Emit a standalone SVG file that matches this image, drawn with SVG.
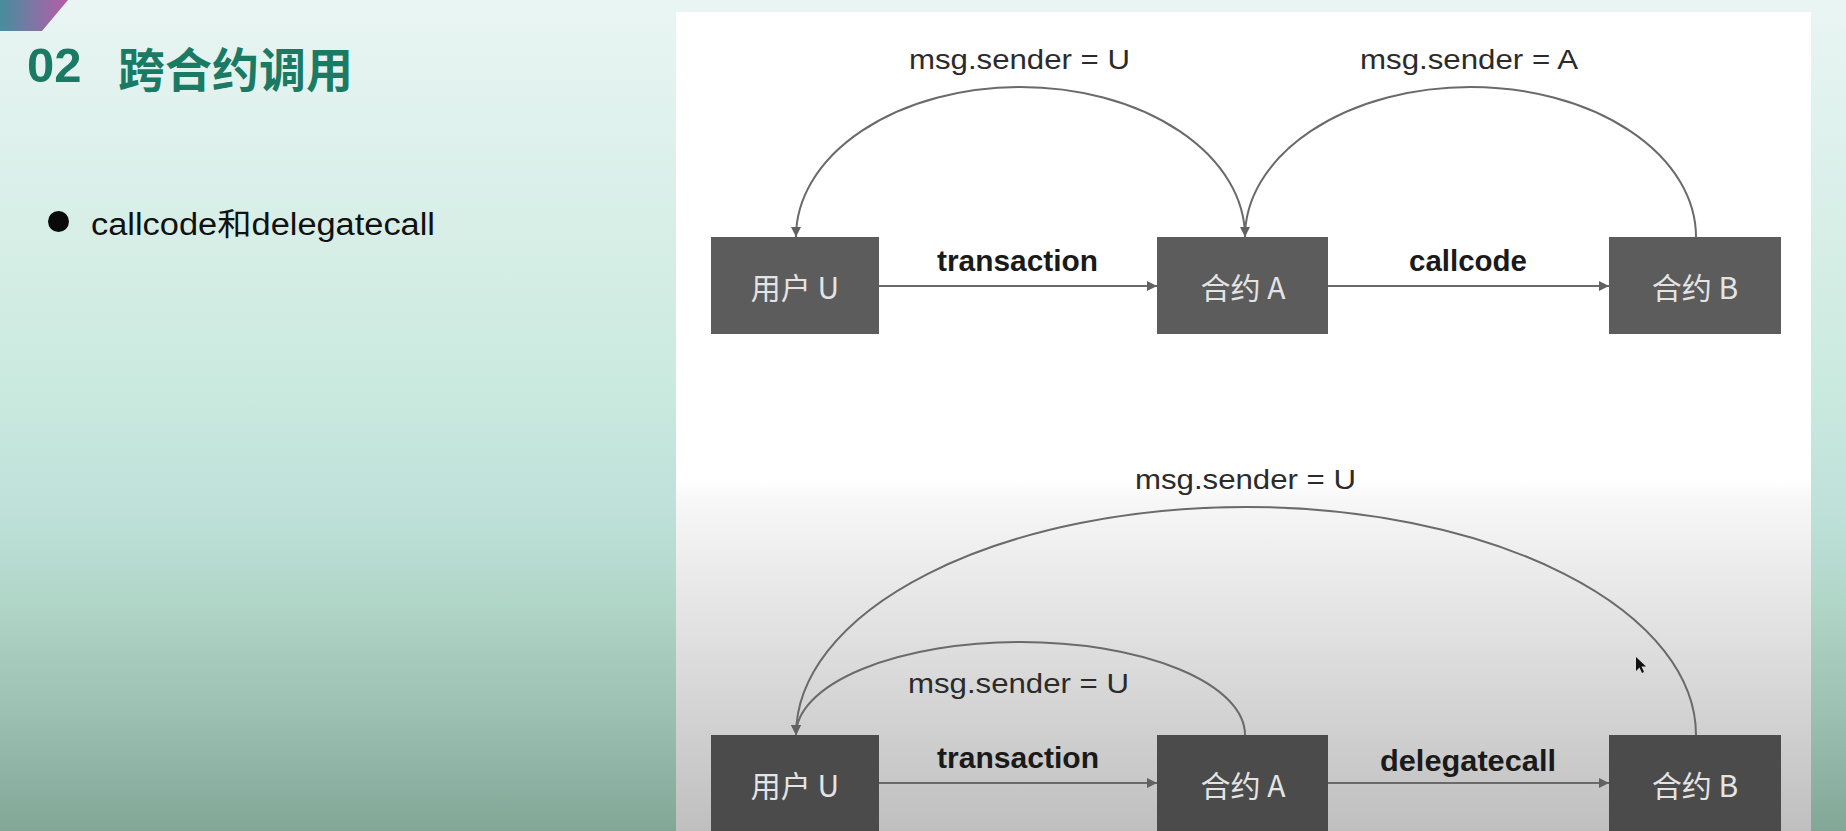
<svg xmlns="http://www.w3.org/2000/svg" width="1846" height="831" viewBox="0 0 1846 831">
  <defs>
    <linearGradient id="bg" x1="0" y1="0" x2="0" y2="1">
      <stop offset="0" stop-color="#e9f5f3"/>
      <stop offset="0.46" stop-color="#cbeadf"/>
      <stop offset="0.61" stop-color="#bfe1da"/>
      <stop offset="0.72" stop-color="#b1d7c9"/>
      <stop offset="0.84" stop-color="#9fc3b5"/>
      <stop offset="1" stop-color="#82a797"/>
    </linearGradient>
    <linearGradient id="panel" x1="0" y1="0" x2="0" y2="1">
      <stop offset="0" stop-color="#ffffff"/>
      <stop offset="0.571" stop-color="#ffffff"/>
      <stop offset="0.596" stop-color="#f7f7f7"/>
      <stop offset="1" stop-color="#bfbfbf"/>
    </linearGradient>
    <linearGradient id="tag" x1="0" y1="0" x2="1" y2="0">
      <stop offset="0" stop-color="#468e9e"/>
      <stop offset="1" stop-color="#b75ca9"/>
    </linearGradient>
    <marker id="arrow" viewBox="0 0 10 10" refX="10" refY="5" markerWidth="11" markerHeight="10" markerUnits="userSpaceOnUse" orient="auto">
      <path d="M0,0 L10,5 L0,10 z" fill="#616161"/>
    </marker>
    <style>
      .box-top { fill: #5c5c5c; }
      .box-bot { fill: #4b4b4b; }
      .box-label { font-family: "Noto Sans CJK SC", "Liberation Sans", sans-serif; font-size: 30px; fill: #e4e4e4; text-anchor: middle; }
      .edge-label { font-family: "Liberation Sans", Arial, sans-serif; font-size: 30px; font-weight: bold; fill: #1a1a1a; text-anchor: middle; }
      .msg-label { font-family: "Liberation Sans", Arial, sans-serif; font-size: 27px; fill: #2b2b2b; text-anchor: middle; }
      .conn { fill: none; stroke: #6a6a6a; stroke-width: 2; marker-end: url(#arrow); }
      .conn-plain { fill: none; stroke: #6a6a6a; stroke-width: 2; }
    </style>
  </defs>

  <!-- background -->
  <rect x="0" y="0" width="1846" height="831" fill="url(#bg)"/>
  <polygon points="0,0 68,0 42,31 0,31" fill="url(#tag)"/>
  <rect x="676" y="12" width="1135" height="819" fill="url(#panel)"/>

  <!-- title and bullet -->
  <g id="title">
    <text x="27" y="82" font-family="'Liberation Sans', Arial, sans-serif" font-size="49" font-weight="bold" fill="#1b7a63">02</text>
    <text x="118" y="87" font-family="'Noto Sans CJK SC', sans-serif" font-size="47" font-weight="bold" fill="#1b7a63">跨合约调用</text>
  </g>
  <g id="bullet">
    <circle cx="58.5" cy="221.5" r="10.5" fill="#0a0a0a"/>
    <text x="91" y="235" font-family="'Liberation Sans', 'Noto Sans CJK SC', sans-serif" font-size="31" fill="#111111" textLength="344" lengthAdjust="spacingAndGlyphs">callcode和delegatecall</text>
  </g>

  <!-- connectors -->
  <g id="connectors">
    <!-- top diagram -->
    <line class="conn" x1="879" y1="286" x2="1157" y2="286"/>
    <line class="conn" x1="1328" y1="286" x2="1609" y2="286"/>
    <path class="conn" d="M1245,237 A224.5,150 0 0 0 796,237"/>
    <path class="conn" d="M1696,237 A225.5,150 0 0 0 1245,237"/>
    <!-- bottom diagram -->
    <line class="conn" x1="879" y1="783" x2="1157" y2="783"/>
    <line class="conn" x1="1328" y1="783" x2="1609" y2="783"/>
    <path class="conn" d="M1245,735 A224.5,93 0 0 0 796,735"/>
    <path class="conn" d="M1696,735 A450,228 0 0 0 796,735"/>

    <text class="edge-label" x="1017.5" y="271" textLength="161" lengthAdjust="spacingAndGlyphs">transaction</text>
    <text class="edge-label" x="1468" y="271" textLength="118" lengthAdjust="spacingAndGlyphs">callcode</text>
    <text class="msg-label" x="1019.5" y="69" textLength="221" lengthAdjust="spacingAndGlyphs">msg.sender = U</text>
    <text class="msg-label" x="1469" y="69" textLength="218" lengthAdjust="spacingAndGlyphs">msg.sender = A</text>

    <text class="edge-label" x="1018" y="768" textLength="162" lengthAdjust="spacingAndGlyphs">transaction</text>
    <text class="edge-label" x="1468" y="771" textLength="176" lengthAdjust="spacingAndGlyphs">delegatecall</text>
    <text class="msg-label" x="1245.5" y="489" textLength="221" lengthAdjust="spacingAndGlyphs">msg.sender = U</text>
    <text class="msg-label" x="1018.5" y="693" textLength="221" lengthAdjust="spacingAndGlyphs">msg.sender = U</text>
  </g>

  <!-- nodes: top diagram -->
  <g id="top-user">
    <rect class="box-top" x="711" y="237" width="168" height="97"/>
    <text class="box-label" x="795" y="299">用户 U</text>
  </g>
  <g id="top-contractA">
    <rect class="box-top" x="1157" y="237" width="171" height="97"/>
    <text class="box-label" x="1243" y="299">合约 A</text>
  </g>
  <g id="top-contractB">
    <rect class="box-top" x="1609" y="237" width="172" height="97"/>
    <text class="box-label" x="1695" y="299">合约 B</text>
  </g>

  <!-- nodes: bottom diagram -->
  <g id="bottom-user">
    <rect class="box-bot" x="711" y="735" width="168" height="97"/>
    <text class="box-label" x="795" y="797" fill="#d8d8d8">用户 U</text>
  </g>
  <g id="bottom-contractA">
    <rect class="box-bot" x="1157" y="735" width="171" height="97"/>
    <text class="box-label" x="1243" y="797">合约 A</text>
  </g>
  <g id="bottom-contractB">
    <rect class="box-bot" x="1609" y="735" width="172" height="97"/>
    <text class="box-label" x="1695" y="797">合约 B</text>
  </g>

  <!-- mouse pointer -->
  <polygon points="1636,657 1636,671 1639.5,667.5 1642,673 1644,672 1641.5,666.5 1646,666.5" fill="#111111"/>
</svg>
